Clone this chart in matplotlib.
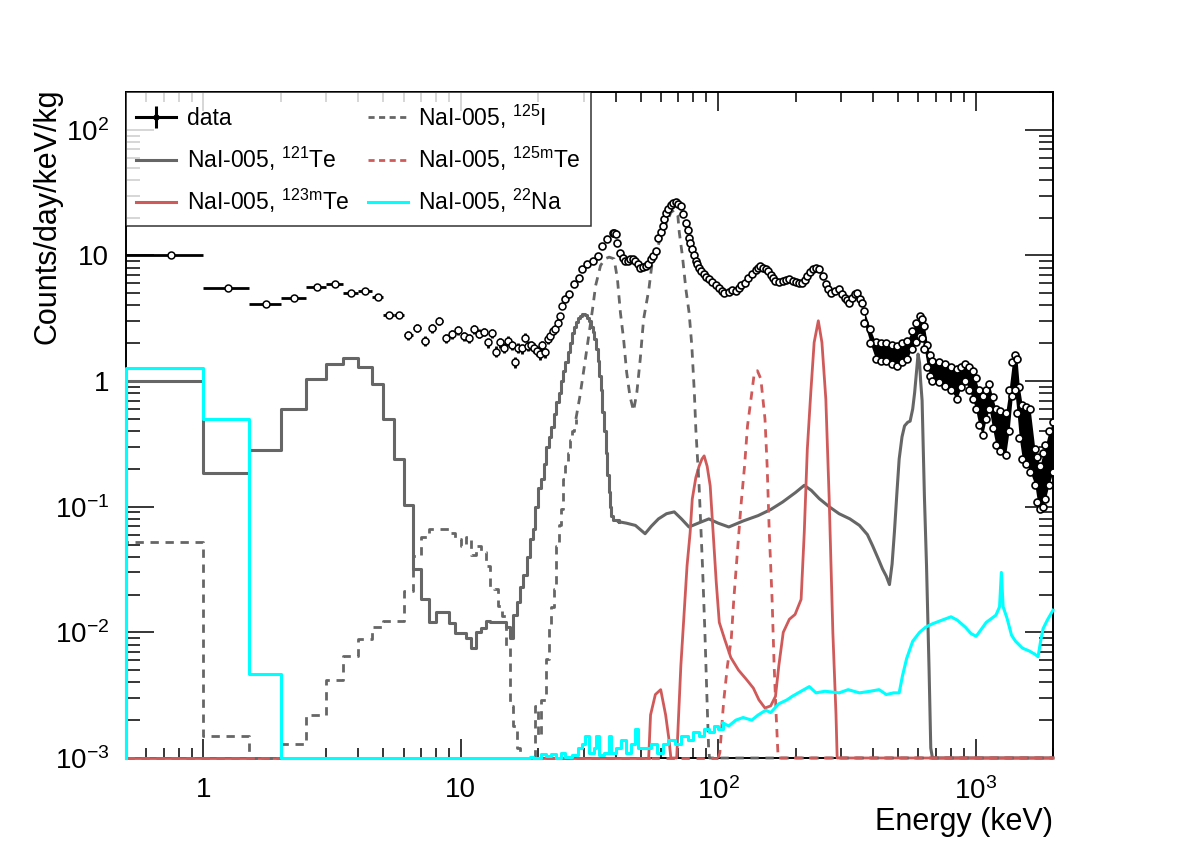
import numpy as np
import matplotlib
matplotlib.use('Agg')
import matplotlib.pyplot as plt
from matplotlib.lines import Line2D
from matplotlib.legend_handler import HandlerTuple

plt.rcParams['font.family'] = ['Liberation Sans', 'DejaVu Sans']
plt.rcParams['mathtext.fontset'] = 'custom'
plt.rcParams['mathtext.rm'] = 'Liberation Sans'
plt.rcParams['mathtext.it'] = 'Liberation Sans:italic'
plt.rcParams['mathtext.bf'] = 'Liberation Sans:bold'

# ---------------- data (measured spectrum) ----------------
data_E_low = [0.75, 1.25, 1.75, 2.25, 2.75, 3.25, 3.75, 4.25, 4.75, 5.25, 5.75,
              6.25, 6.75, 7.25, 7.75, 8.25, 8.75, 9.25, 9.75, 10.25, 10.75, 11.25,
              11.75, 12.25, 12.75, 13.25, 13.75, 14.25, 14.75, 15.25, 15.75, 16.25,
              16.75, 17.25, 17.75, 18.25, 18.75, 19.25, 19.75, 20.25, 20.75, 21.25,
              21.75, 22.25, 22.75, 23.25, 23.75, 24.25, 24.75]
data_low = [10.0, 5.47, 4.14, 4.56, 5.6, 5.92, 5.06, 5.21, 4.67, 3.34, 3.34,
            2.32, 2.65, 2.09, 2.63, 3.01, 2.19, 2.36, 2.54, 2.29, 2.19, 2.59,
            2.39, 2.46, 2.03, 2.40, 1.72, 2.03, 1.85, 2.09, 1.93, 1.41,
            1.85, 1.82, 2.22, 1.90, 1.93, 1.85, 1.74, 1.64, 1.93, 1.69,
            2.15, 2.29, 2.5, 2.6, 2.92, 3.3, 3.96]
data_err_low = [0.25, 0.15, 0.12, 0.13, 0.15, 0.16, 0.15, 0.15, 0.15, 0.15, 0.15,
                0.2, 0.2, 0.19, 0.2, 0.2, 0.19, 0.19, 0.2, 0.19, 0.19, 0.2,
                0.19, 0.19, 0.18, 0.19, 0.17, 0.18, 0.17, 0.18, 0.17, 0.15,
                0.17, 0.17, 0.18, 0.17, 0.17, 0.17, 0.16, 0.16, 0.17, 0.16,
                0.18, 0.18, 0.19, 0.19, 0.2, 0.21, 0.23]
data_bin_half = 0.25

data_E_mid = [25.5, 26.3, 27.5, 28.8, 29.6, 31.0, 32.5, 34.0, 35.5, 37.0, 38.9, 39.5,
              40.0, 40.6, 41.7, 42.6, 43.6, 44.6, 45.6, 46.6, 47.7, 48.8, 49.9, 51.0,
              52.2, 53.4, 54.6, 55.8, 57.1, 58.6, 59.8, 60.9, 61.8, 62.6, 64.0, 65.5,
              67.0, 68.5, 70.0, 71.6, 73.2, 74.9, 76.0, 77.1, 78.0, 79.0, 80.5, 81.9,
              83.0, 84.4, 86.0, 88.2, 90.0, 92.2, 95.0, 97.8, 100.5, 103.8, 105, 110,
              113, 117, 120, 123, 127, 131, 135, 140, 143, 146, 150, 153, 156, 160,
              163, 167, 172, 178, 183, 189, 195, 200, 206, 212, 217, 222, 228, 233,
              240, 247, 255, 262, 268, 275, 285, 295, 302, 310, 316, 323, 330, 340,
              347, 355, 363]
data_mid = [4.5, 4.9, 5.89, 6.65, 7.74, 8.48, 9.0, 9.87, 11.9, 13.4, 15.1, 15.0,
            14.7, 12.6, 10.5, 9.6, 9.0, 9.1, 9.3, 9.4, 9.0, 8.5, 8.0, 8.1,
            8.2, 8.6, 9.3, 9.9, 10.8, 13.8, 15.3, 17.1, 19.5, 21.8, 23.5, 25.4,
            26.2, 26.5, 25.8, 24.6, 21.5, 18.2, 15.8, 13.8, 12.5, 11.2, 10.0, 9.0,
            8.5, 8.0, 7.5, 7.06, 6.7, 6.45, 6.1, 5.8, 5.5, 5.2, 5.0, 5.1,
            5.3, 5.2, 5.5, 5.8, 6.06, 6.65, 7.1, 7.6, 7.9, 8.2, 8.0, 7.74, 7.5, 7.0,
            6.6, 6.25, 6.1, 6.3, 6.4, 6.45, 6.3, 6.2, 6.0, 6.06, 6.4, 6.8, 7.4, 7.74,
            7.9, 7.74, 6.8, 5.89, 5.4, 5.06, 5.2, 5.37, 4.9, 4.6, 4.4, 4.21, 4.6, 4.9,
            5.06, 4.5, 4.21]

band_E = [370, 390, 409, 430, 450, 475, 495, 520, 542, 565, 585, 606, 620, 633, 650,
          665, 680, 720, 764, 800, 846, 880, 913, 945, 974, 1000, 1030, 1065, 1100,
          1130, 1165, 1200, 1250, 1310, 1350, 1390, 1420, 1450, 1480, 1520, 1570,
          1630, 1700, 1740, 1780, 1830, 1870, 1930, 2000]
band_hi = [3.6, 2.6, 2.03, 2.0, 2.0, 1.95, 1.91, 2.0, 2.1, 2.5, 2.9, 3.3, 3.1, 2.75, 1.95,
           1.6, 1.45, 1.42, 1.38, 1.3, 1.25, 1.3, 1.38, 1.3, 1.2, 1.05, 0.85, 0.76, 0.85,
           0.95, 0.75, 0.6, 0.58, 0.56, 0.85, 1.41, 1.6, 1.49, 0.9, 0.64, 0.62,
           0.6, 0.29, 0.25, 0.21, 0.27, 0.31, 0.4, 0.47]
band_lo = [2.9, 2.0, 1.5, 1.45, 1.45, 1.38, 1.32, 1.42, 1.5, 1.8, 2.05, 2.3, 2.2, 1.8, 1.3,
           1.1, 1.0, 0.98, 0.92, 0.85, 0.72, 0.9, 1.0, 0.85, 0.72, 0.6, 0.45, 0.37, 0.5,
           0.6, 0.42, 0.31, 0.28, 0.26, 0.4, 0.76, 0.85, 0.56, 0.35, 0.24, 0.22,
           0.19, 0.15, 0.11, 0.096, 0.1, 0.116, 0.15, 0.19]

# ---------------- simulated components ----------------
te121_E = [0.5, 1.0, 1.5, 2.0, 2.5, 3.0, 3.5, 4.0, 4.5, 5.0, 5.5, 6.0, 6.5, 7.0, 7.5, 8.0,
           8.5, 9.0, 9.5, 10.0, 10.5, 11.0, 11.5, 12.0, 12.5, 13.0, 13.5, 14.0, 14.5,
           15.0, 15.5, 16.0, 16.5, 17.0, 17.5, 18.0, 18.5, 19.0, 19.5, 20.0, 20.5, 21.0,
           21.5, 22.0, 22.5, 23.0, 23.5, 24.0, 24.5, 25.0, 25.5, 26.0, 26.5, 27.0, 27.5,
           28.0, 28.5, 29.0, 29.5, 30.0, 30.5, 31.0, 31.5, 32.0, 32.5, 33.0, 33.5, 34.0,
           34.5, 35.0, 35.5, 36.0, 36.5, 37.0, 37.5, 38.0, 38.5, 39.0,
           41, 44, 47.7, 52, 55, 58.6, 63, 67.5, 72, 77, 85, 92, 100, 110, 125, 143, 160,
           178, 200, 216, 230, 247, 270, 295, 325, 354, 380, 398, 420, 435, 450, 463, 474,
           484, 495, 505, 518, 530, 545, 557, 570, 580, 590, 598, 606, 612, 620, 633, 645,
           660, 670, 680, 2000]
te121_v = [1.01, 0.185, 0.285, 0.6, 1.04, 1.36, 1.54, 1.29, 0.95, 0.5, 0.24, 0.103, 0.032,
           0.0186, 0.0122, 0.0146, 0.0146, 0.0118, 0.0098, 0.0098, 0.0091, 0.0075, 0.010,
           0.0109, 0.0123, 0.012, 0.012, 0.012, 0.012, 0.011, 0.009, 0.0137, 0.0175, 0.023,
           0.0286, 0.04, 0.0556, 0.067, 0.10, 0.14, 0.167, 0.22, 0.3, 0.36, 0.43, 0.55, 0.68,
           0.81, 1.0, 1.2, 1.41, 1.7, 2.0, 2.43, 2.7, 2.95, 3.2, 3.3, 3.4, 3.4, 3.35, 3.2,
           3.0, 2.7, 2.45, 2.15, 1.8, 1.45, 1.1, 0.85, 0.57, 0.4, 0.27, 0.18, 0.13, 0.1,
           0.085, 0.078,
           0.076, 0.074, 0.071, 0.061, 0.07, 0.080, 0.088, 0.091, 0.08, 0.069, 0.075, 0.080,
           0.074, 0.069, 0.077, 0.085, 0.095, 0.109, 0.13, 0.148, 0.135, 0.116, 0.1, 0.088,
           0.08, 0.071, 0.06, 0.049, 0.038, 0.032, 0.028, 0.024, 0.035, 0.063, 0.13, 0.24,
           0.36, 0.44, 0.47, 0.48, 0.6, 0.81, 1.2, 1.64, 1.4, 1.0, 0.7, 0.12, 0.034, 0.005,
           0.0012, 0.0, 0.0]

te123m_E = [0.5, 53.7, 54.6, 57, 59.8, 62.5, 64.4, 65.5, 69, 69.8, 71.6, 73.6, 75.7, 77.8,
            79.3, 81.9, 84.3, 86.5, 88.2, 90.6, 93.1, 95.6, 98.3, 101, 106, 112, 120, 129,
            137, 144, 152, 160, 167, 172, 179, 189, 199, 210, 216, 222, 229, 236, 245, 253,
            262, 270, 279, 287, 290, 2000]
te123m_v = [0.0, 0.0, 0.0022, 0.0032, 0.0035, 0.0022, 0.0014, 0.0, 0.0, 0.0017, 0.0054,
            0.0134, 0.034, 0.062, 0.115, 0.171, 0.21, 0.24, 0.254, 0.21, 0.147, 0.062, 0.025,
            0.012, 0.0088, 0.0063, 0.005, 0.0042, 0.0036, 0.0029, 0.0025, 0.0026, 0.0031,
            0.0054, 0.01, 0.0127, 0.0139, 0.0183, 0.062, 0.287, 0.81, 2.03, 3.02, 2.03, 0.72,
            0.115, 0.01, 0.0022, 0.0, 0.0]

i125_E = [0.5, 1.0, 1.5, 2.0, 2.5, 3.0, 3.5, 4.0, 4.5, 5.0, 5.5, 6.0, 6.5, 7.0, 7.5, 8.0,
          8.5, 9.0, 9.5, 10.0, 10.5, 11.0, 11.5, 12.0, 12.5, 13.0, 13.5, 14.0, 14.5, 15.0,
          15.5, 16.0, 16.5, 17.0, 19.5, 20.0, 20.5, 21.0, 21.5, 22.0, 22.5, 23.0, 23.5,
          24.0, 24.5, 25.0, 25.5, 26.0, 26.5, 27.0, 27.5,
          28.0, 29.0, 29.7, 31.0, 32.5, 33.4, 34.9, 36.3, 37.7, 39.4, 40.6, 41.7, 42.9,
          44.1, 45.4, 46.9, 48.3, 49.8, 51.3, 53.8, 55.4, 57.8, 61.6, 65.5, 67.5, 69.7,
          70.6, 72.6, 74.9, 77.1, 79.0, 80.8, 81.9, 84.3, 86.9, 88.8, 90.5, 91.8, 92.5,
          2000]
i125_v = [0.052, 0.0015, 0.0, 0.0013, 0.0022, 0.0042, 0.0065, 0.0088, 0.011, 0.0123,
          0.0123, 0.0214, 0.0405, 0.057, 0.066, 0.066, 0.066, 0.062, 0.055, 0.049, 0.057,
          0.041, 0.049, 0.044, 0.034, 0.0227, 0.022, 0.0163, 0.0134, 0.0077, 0.0026,
          0.0018, 0.0012, 0.0, 0.0026, 0.0015, 0.0029, 0.0029, 0.0061, 0.0112, 0.016,
          0.022, 0.049, 0.072, 0.096, 0.166, 0.21, 0.27, 0.34, 0.4, 0.44,
          0.5, 0.75, 1.04, 1.9, 3.75, 5.75, 8.3, 9.4, 9.7, 9.4, 6.5, 3.5, 2.16, 1.17,
          0.76, 0.58, 0.81, 1.5, 3.1, 5.4, 8.8, 11.3, 16.3, 22.0, 23.0, 20.8, 15.3, 9.96,
          5.4, 3.5, 1.9, 0.81, 0.41, 0.147, 0.034, 0.01, 0.0029, 0.0012, 0.0, 0.0]

te125m_E = [0.5, 100, 101.5, 105, 108.6, 112.4, 115, 119, 122.5, 126.6, 130, 134.6, 138,
            142, 146.5, 152, 155, 158, 162, 165, 168, 171, 2000]
te125m_v = [0.0, 0.0, 0.0011, 0.0028, 0.0054, 0.0088, 0.0183, 0.046, 0.1, 0.21, 0.44,
            0.76, 1.14, 1.21, 1.04, 0.5, 0.21, 0.062, 0.0183, 0.0054, 0.0022, 0.0, 0.0]

na22_E = [0.5, 1.0, 1.5, 2.0, 18.5, 19.0, 20.5, 21.5, 22.5, 23.5, 24.5, 25.5, 27, 28.5,
          29.5, 30.5, 31.5, 33, 33.5, 34.5, 36, 37.5, 38.5, 40, 42, 44, 46, 47.5, 49, 52,
          55, 58, 61, 64, 68, 72, 76, 80, 84, 88, 92, 96, 100,
          104, 110, 117, 125, 135, 143, 153, 160, 172, 185, 194, 210, 226, 240, 260, 295,
          320, 354, 390, 422, 450, 480, 505, 520, 540, 570, 606, 640, 680, 740, 803, 850,
          913, 960, 1005, 1050, 1100, 1200, 1240, 1260, 1280, 1325, 1380, 1430, 1520,
          1620, 1700, 1750, 1790, 1830, 1900, 2000]
na22_v = [1.26, 0.50, 0.0047, 0.0, 0.00102, 0.0, 0.00107, 0.00103, 0.00107, 0.0, 0.0011,
          0.00102, 0.00105, 0.0012, 0.0013, 0.0015, 0.0011, 0.0012, 0.0015, 0.00105,
          0.0011, 0.0015, 0.0011, 0.0012, 0.0014, 0.0011, 0.0013, 0.0017, 0.0012, 0.0012,
          0.0013, 0.0011, 0.0013, 0.0014, 0.0013, 0.0015, 0.0014, 0.0016, 0.0015, 0.0017,
          0.0016, 0.0018, 0.0017,
          0.0019, 0.0018, 0.002, 0.0021, 0.0020, 0.0022, 0.0024, 0.0023, 0.0027, 0.0029,
          0.0031, 0.0034, 0.0037, 0.0033, 0.0034, 0.0033, 0.0035, 0.0033, 0.0034, 0.0035,
          0.0032, 0.0033, 0.0033, 0.0045, 0.0062, 0.0085, 0.010, 0.011, 0.0117, 0.0125,
          0.0133, 0.0125, 0.011, 0.0098, 0.0093, 0.0105, 0.012, 0.0137, 0.016, 0.030,
          0.016, 0.013, 0.0095, 0.0085, 0.0075, 0.0071, 0.0067, 0.0064, 0.0085, 0.0107,
          0.0125, 0.0150]

labels = ['data', r'NaI-005, $^{\mathregular{121}}$Te', r'NaI-005, $^{\mathregular{123m}}$Te',
          r'NaI-005, $^{\mathregular{125}}$I', r'NaI-005, $^{\mathregular{125m}}$Te',
          r'NaI-005, $^{\mathregular{22}}$Na']

# ---------------- style ----------------
XMIN, XMAX, YMIN, YMAX = 0.5, 2000, 1e-3, 200
GRAY, RED, CYAN = '#666666', '#d05a5a', '#00ffff'

fig = plt.figure(figsize=(11.82, 8.5), dpi=100)
ax = fig.add_axes([126 / 1182, 92 / 850, (1053 - 126) / 1182, (758 - 92) / 850])
ax.set_xscale('log')
ax.set_yscale('log')
ax.set_xlim(XMIN, XMAX)
ax.set_ylim(YMIN, YMAX)


def draw_hist(E, v, split, **kw):
    E = np.concatenate([[XMIN], np.asarray(E, float)])
    v = np.concatenate([[YMIN], np.clip(np.asarray(v, float), YMIN, None)])
    s = int(np.searchsorted(E, split))
    ax.plot(E[:s + 1], v[:s + 1], drawstyle='steps-post', clip_on=False, **kw)
    if s < len(E) - 1:
        ax.plot(E[s:], v[s:], clip_on=False, **kw)


draw_hist(te121_E, te121_v, 39.5, color=GRAY, lw=2.2, zorder=3)
draw_hist(te123m_E, te123m_v, 0.6, color=RED, lw=2.0, zorder=3)
draw_hist(i125_E, i125_v, 28.0, color=GRAY, lw=2.0, ls=(0, (3.0, 2.4)), zorder=3)
draw_hist(te125m_E, te125m_v, 0.6, color=RED, lw=2.0, ls=(0, (3.0, 2.4)), zorder=3)
draw_hist(na22_E, na22_v, 101, color=CYAN, lw=2.2, zorder=4)

# data
ax.errorbar(data_E_low, data_low, xerr=data_bin_half, yerr=data_err_low, fmt='o',
            ms=5, mfc='white', mec='black', mew=1.1, ecolor='black', elinewidth=2.0,
            capsize=0, zorder=6)
ax.plot(data_E_mid, data_mid, 'o', ms=5, mfc='white', mec='black', mew=1.2, zorder=6)
ax.fill_between(band_E, band_lo, band_hi, color='black', lw=0, zorder=5)
ax.plot(band_E, band_hi, 'o', ms=5, mfc='white', mec='black', mew=1.2, zorder=6)
ax.plot(band_E, band_lo, 'o', ms=5, mfc='white', mec='black', mew=1.2, zorder=6)

# axes styling
for sp in ax.spines.values():
    sp.set_linewidth(1.4)
ax.set_xticks([1, 10, 100, 1000], labels=['1', '10', r'$\mathregular{10^{2}}$',
                                          r'$\mathregular{10^{3}}$'])
ax.set_yticks([1e-3, 1e-2, 1e-1, 1, 10, 100],
              labels=[r'$\mathregular{10^{-3}}$', r'$\mathregular{10^{-2}}$',
                      r'$\mathregular{10^{-1}}$', '1', '10', r'$\mathregular{10^{2}}$'])
ax.set_xlim(XMIN, XMAX)
ax.set_ylim(YMIN, YMAX)
ax.tick_params(axis='x', which='major', direction='in', length=14, width=1.1,
               top=True, labelsize=20, pad=14)
ax.tick_params(axis='x', which='minor', direction='in', length=7, width=1.1, top=True)
ax.tick_params(axis='y', which='major', direction='in', length=20, width=1.1,
               right=True, labelsize=20, pad=12)
ax.tick_params(axis='y', which='minor', direction='in', length=10, width=1.1, right=True)
ax.xaxis.set_minor_formatter(plt.NullFormatter())
ax.yaxis.set_minor_formatter(plt.NullFormatter())

ax.set_xlabel('Energy (keV)', fontsize=22, loc='right')
ax.xaxis.set_label_coords(1.0, -0.073)
ax.set_ylabel('Counts/day/keV/kg', fontsize=22, loc='top')
ax.yaxis.set_label_coords(-0.068, 1.005)

# legend
h_data = (Line2D([], [], color='black', lw=2.2),
          Line2D([], [], color='black', marker='|', ms=16, mew=2.2, ls='none'),
          Line2D([], [], color='black', marker='o', ms=3.5, ls='none'))
h_te121 = Line2D([], [], color=GRAY, lw=2.2)
h_te123 = Line2D([], [], color=RED, lw=2.2)
h_i125 = Line2D([], [], color=GRAY, lw=2.0, ls=(0, (2.2, 1.6)))
h_te125 = Line2D([], [], color=RED, lw=2.0, ls=(0, (2.2, 1.6)))
h_na = Line2D([], [], color=CYAN, lw=2.2)
leg = ax.legend([h_data, h_te121, h_te123, h_i125, h_te125, h_na], labels, ncol=2,
                loc='upper left', bbox_to_anchor=(0.0, 1.0), borderaxespad=0,
                fontsize=16.5, frameon=True, fancybox=False, edgecolor='black',
                handlelength=1.75, handletextpad=0.45, columnspacing=0.8,
                labelspacing=0.62, borderpad=0.45,
                handler_map={tuple: HandlerTuple(ndivide=1)})
leg.get_frame().set_linewidth(1.1)
leg.set_zorder(10)

fig.savefig('out.png', dpi=100)
